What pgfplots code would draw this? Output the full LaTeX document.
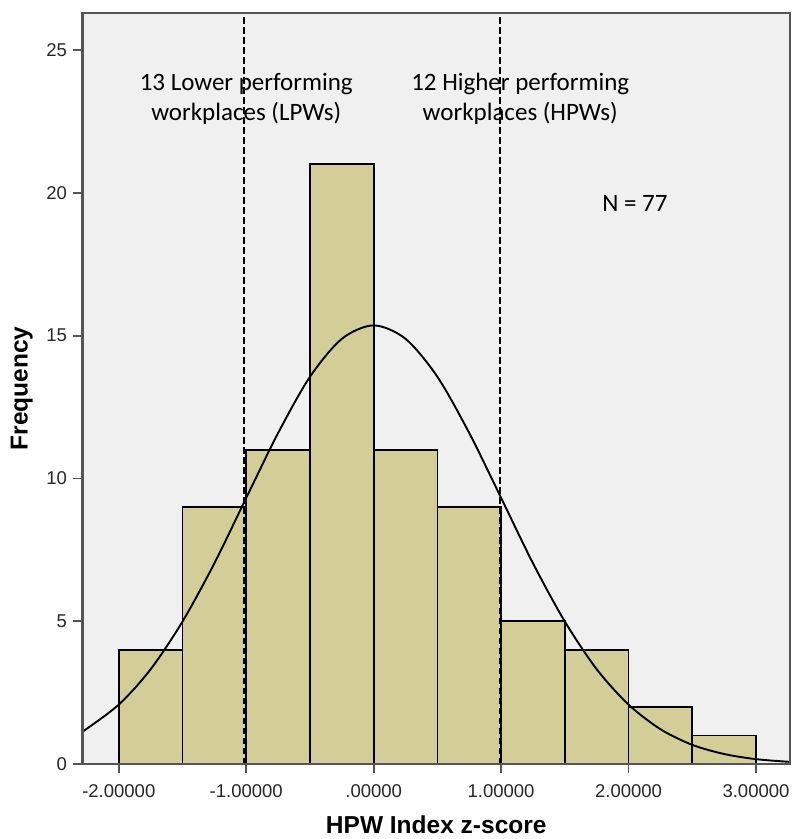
\documentclass[border=0pt]{standalone}
\usepackage{pgfplots}
\pgfplotsset{compat=1.18}
\usepackage{fontspec}
\setmainfont{Liberation Sans}
\newfontfamily\calfont{Carlito}
\definecolor{barfill}{RGB}{211,206,151}
\definecolor{bg}{RGB}{240,240,240}
\definecolor{framec}{RGB}{85,85,85}
\begin{document}
\begin{tikzpicture}
\useasboundingbox (-82.5pt,-75pt) rectangle (709.5pt,764pt);
\begin{axis}[
  scale only axis, width=707.5pt, height=751pt,
  xmin=-2.285, xmax=3.267, ymin=0, ymax=26.3,
  axis background/.style={fill=bg},
  axis on top,
  axis line style={framec, line width=2.2pt},
  tick pos=left, tick align=outside, major tick length=9pt,
  tick style={framec, line width=1.8pt},
  xtick={-2,-1,0,1,2,3},
  xticklabels={-2.00000,-1.00000,.00000,1.00000,2.00000,3.00000},
  ytick={0,5,10,15,20,25},
  /pgf/number format/assume math mode=true,
  ticklabel style={font=\fontsize{18.5}{21}\selectfont, text=black!85},
  xticklabel style={yshift=-8pt},
  yticklabel style={xshift=-3pt},
  xlabel={HPW Index z-score},
  ylabel={Frequency},
  xlabel style={font=\bfseries\fontsize{24.5}{28}\selectfont, at={(axis description cs:0.5,-0.081)}, anchor=center},
  ylabel style={font=\bfseries\fontsize{24.5}{28}\selectfont, at={(axis description cs:-0.086,0.5)}, anchor=center},
]
\addplot[ybar interval, fill=barfill, draw=black, line width=1.7pt]
  coordinates {(-2,4) (-1.5,9) (-1,11) (-0.5,21) (0,11) (0.5,9) (1,5) (1.5,4) (2,2) (2.5,1) (3,1)};
\addplot[black, line width=1.9pt, smooth, no marks]
  coordinates {(-2.285,1.13) (-2.0,2.08) (-1.75,3.32) (-1.5,4.99) (-1.25,7.03) (-1.0,9.32) (-0.75,11.59) (-0.5,13.56) (-0.25,14.89) (0,15.36) (0.25,14.89) (0.5,13.56) (0.75,11.59) (1.0,9.32) (1.25,7.03) (1.5,4.99) (1.75,3.32) (2.0,2.08) (2.25,1.22) (2.5,0.67) (2.75,0.35) (3.0,0.17) (3.267,0.074)};
\addplot[black, line width=1.7pt, dash pattern=on 6.5pt off 3.5pt, no marks]
  coordinates {(-1.016,0) (-1.016,26.3)};
\addplot[black, line width=1.7pt, dash pattern=on 6.5pt off 3.5pt, no marks]
  coordinates {(0.99,0) (0.99,26.3)};
\node[font=\calfont\fontsize{25}{29}\selectfont, anchor=base] at (axis cs:-1.0,23.57) {13 Lower performing};
\node[font=\calfont\fontsize{25}{29}\selectfont, anchor=base] at (axis cs:-1.0,22.55) {workplaces (LPWs)};
\node[font=\calfont\fontsize{25}{29}\selectfont, anchor=base] at (axis cs:1.15,23.57) {12 Higher performing};
\node[font=\calfont\fontsize{25}{29}\selectfont, anchor=base] at (axis cs:1.15,22.55) {workplaces (HPWs)};
\node[font=\calfont\fontsize{25}{29}\selectfont, anchor=base] at (axis cs:2.05,19.36) {N = 77};
\end{axis}
\end{tikzpicture}
\end{document}
